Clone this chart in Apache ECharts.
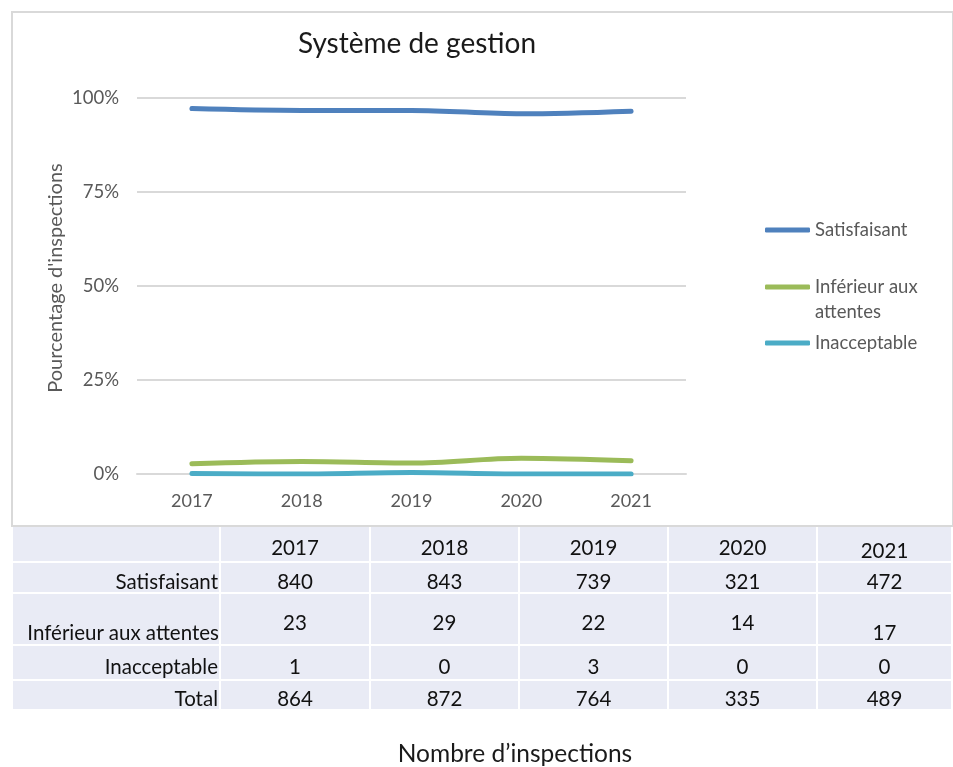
<!DOCTYPE html>
<html lang="fr">
<head>
    <meta charset="UTF-8">
    <title>Système de gestion</title>
    <script src="https://cdn.jsdelivr.net/npm/echarts@6/dist/echarts.min.js"></script>
    <style>
        html, body { margin: 0; padding: 0; background: #fff; overflow: hidden; }
        #main { position: absolute; left: 0; top: 0; width: 953px; height: 767px; }
        #frame { position: absolute; left: 11px; top: 11px; width: 939px; height: 512px;
                 border: 2px solid #d9d9d9; pointer-events: none; }
        #table { position: absolute; left: 11px; top: 525px; border-collapse: separate; border-spacing: 2px;
                 table-layout: fixed; font-family: Lato, sans-serif; font-size: 20.5px; color: #111; }
        #table td { background: #e9ebf5; padding: 6px 0 0 0; line-height: 22px; text-align: center;
                    vertical-align: middle; white-space: nowrap; }
        #table td.lbl { text-align: right; padding-right: 1px; }
        #table td.low { vertical-align: bottom; padding: 0 0 1px 0; }
    </style>
</head>
<body>
<div id="main"></div>
<div id="frame"></div>
<table id="table"></table>

<script type="text/javascript">
    // années
    var years = ['2017', '2018', '2019', '2020', '2021'];
    var seriesNames = ['Satisfaisant', 'Inférieur aux attentes', 'Inacceptable'];

    // pourcentages
    var pctSatisfaisant = [0.972, 0.967, 0.967, 0.958, 0.965];
    var pctInferieur = [0.027, 0.033, 0.029, 0.042, 0.035];
    var pctInacceptable = [0.001, 0, 0.004, 0, 0];

    // tableau du nombre d'inspections
    var tableRows = ['Satisfaisant', 'Inférieur aux attentes', 'Inacceptable', 'Total'];
    var nbSatisfaisant = [840, 843, 739, 321, 472];
    var nbInferieur = [23, 29, 22, 14, 17];
    var nbInacceptable = [1, 0, 3, 0, 0];
    var nbTotal = [864, 872, 764, 335, 489];

    var colors = ['#4f81bd', '#9bbb59', '#4bacc6'];
    var gray = '#595959';

    function buildTable() {
        var widths = [206, 148, 147, 147, 147, 133];
        var rowHeights = [34, 29, 50, 33, 28];
        var values = [nbSatisfaisant, nbInferieur, nbInacceptable, nbTotal];
        var html = '<colgroup>';
        widths.forEach(function (w) { html += '<col style="width:' + w + 'px">'; });
        html += '</colgroup>';
        html += '<tr style="height:' + rowHeights[0] + 'px"><td></td>';
        years.forEach(function (y, j) {
            var st = j === years.length - 1 ? ' style="padding-top:12px"' : '';
            html += '<td' + st + '>' + y + '</td>';
        });
        html += '</tr>';
        for (var i = 0; i < tableRows.length; i++) {
            var low = tableRows[i] === 'Inférieur aux attentes';
            html += '<tr style="height:' + rowHeights[i + 1] + 'px">';
            html += '<td class="lbl' + (low ? ' low' : '') + '">' + tableRows[i] + '</td>';
            for (var j = 0; j < years.length; j++) {
                var cls = '';
                if (j === years.length - 1 && low) cls = ' class="low"';
                html += '<td' + cls + '>' + values[i][j] + '</td>';
            }
            html += '</tr>';
        }
        document.getElementById('table').innerHTML = html;
    }

    function legendFor(idx, top) {
        var multi = idx === 1;
        return {
            data: [seriesNames[idx]],
            left: 765,
            top: top,
            padding: 0,
            icon: 'roundRect',
            itemWidth: 45,
            itemHeight: 5,
            selectedMode: false,
            // ligne vide en tête pour garder le trait aligné sur la 1re ligne
            formatter: multi ? function () { return ' \nInférieur aux\nattentes'; } : '{name}',
            textStyle: {
                fontFamily: 'Lato',
                fontSize: 18.5,
                color: gray,
                lineHeight: 25
            }
        };
    }

    function lineSeries(idx, data) {
        return {
            name: seriesNames[idx],
            type: 'line',
            data: data,
            smooth: 0.35,
            symbol: 'none',
            color: colors[idx],
            lineStyle: { width: 5, color: colors[idx], cap: 'round' }
        };
    }

    function chart() {
        var myChart = echarts.init(document.getElementById('main'), null, { renderer: 'canvas' });
        var option = {
            animation: false,
            textStyle: { fontFamily: 'Lato' },
            grid: { left: 137, top: 98, width: 549, height: 376 },
            legend: [legendFor(0, 217.5), legendFor(1, 249.5), legendFor(2, 330.5)],
            xAxis: {
                type: 'category',
                data: years,
                boundaryGap: true,
                axisLine: { show: true, lineStyle: { color: '#d9d9d9', width: 2 } },
                axisTick: { show: false },
                axisLabel: { color: gray, fontSize: 18, margin: 18, fontFamily: 'Lato' }
            },
            yAxis: {
                type: 'value',
                min: 0,
                max: 1,
                interval: 0.25,
                name: "Pourcentage d'inspections",
                nameLocation: 'middle',
                nameGap: 71,
                nameMoveOverlap: false,
                nameRotate: 90,
                nameTextStyle: { color: gray, fontSize: 20, fontFamily: 'Lato', padding: [0, 0, 0, 16] },
                axisLine: { show: false },
                axisTick: { show: false },
                splitLine: { lineStyle: { color: '#d9d9d9', width: 2 } },
                axisLabel: {
                    color: gray, fontSize: 18.5, margin: 18, fontFamily: 'Lato',
                    formatter: function (v) { return Math.round(v * 100) + '%'; }
                }
            },
            graphic: [
                {
                    type: 'text',
                    style: { text: 'Système de gestion', x: 417, y: 44, align: 'center', verticalAlign: 'middle',
                             fontFamily: 'Lato', fontSize: 28, fill: '#1a1a1a' }
                },
                {
                    type: 'text',
                    style: { text: 'Nombre d’inspections', x: 515, y: 754, align: 'center', verticalAlign: 'middle',
                             fontFamily: 'Lato', fontSize: 24.5, fill: '#1a1a1a' }
                }
            ],
            series: [
                lineSeries(0, pctSatisfaisant),
                lineSeries(1, pctInferieur),
                lineSeries(2, pctInacceptable)
            ]
        };
        myChart.setOption(option);
    }

    buildTable();
    chart();
</script>
</body>
</html>
